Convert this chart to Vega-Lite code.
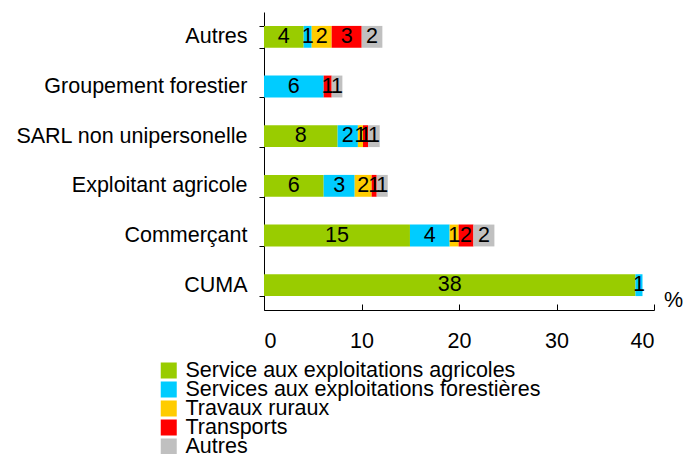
{
  "$schema": "https://vega.github.io/schema/vega-lite/v6.json",
  "autosize": {"type": "none"},
  "padding": {"left": 264, "top": 12, "right": 29, "bottom": 144},
  "width": 390,
  "height": 298,
  "config": {
    "font": "Liberation Sans",
    "view": {"stroke": null},
    "axis": {"grid": false, "domainColor": "#000000", "tickColor": "#000000", "labelColor": "#000000", "labelFontSize": 21.5, "labelFont": "Liberation Sans", "domainWidth": 1, "tickWidth": 1}
  },
  "data": {
    "values": [
      {"cat": "Autres", "type": "Service aux exploitations agricoles", "ord": 1, "v": 4.07},
      {"cat": "Autres", "type": "Services aux exploitations forestières", "ord": 2, "v": 0.82},
      {"cat": "Autres", "type": "Travaux ruraux", "ord": 3, "v": 2.05},
      {"cat": "Autres", "type": "Transports", "ord": 4, "v": 3.08},
      {"cat": "Autres", "type": "Autres", "ord": 5, "v": 2.12},
      {"cat": "Groupement forestier", "type": "Services aux exploitations forestières", "ord": 2, "v": 6.12},
      {"cat": "Groupement forestier", "type": "Transports", "ord": 4, "v": 0.82},
      {"cat": "Groupement forestier", "type": "Autres", "ord": 5, "v": 1.1},
      {"cat": "SARL non unipersonelle", "type": "Service aux exploitations agricoles", "ord": 1, "v": 7.55},
      {"cat": "SARL non unipersonelle", "type": "Services aux exploitations forestières", "ord": 2, "v": 2.08},
      {"cat": "SARL non unipersonelle", "type": "Travaux ruraux", "ord": 3, "v": 0.52},
      {"cat": "SARL non unipersonelle", "type": "Transports", "ord": 4, "v": 0.52},
      {"cat": "SARL non unipersonelle", "type": "Autres", "ord": 5, "v": 1.2},
      {"cat": "Exploitant agricole", "type": "Service aux exploitations agricoles", "ord": 1, "v": 6.12},
      {"cat": "Exploitant agricole", "type": "Services aux exploitations forestières", "ord": 2, "v": 3.18},
      {"cat": "Exploitant agricole", "type": "Travaux ruraux", "ord": 3, "v": 1.74},
      {"cat": "Exploitant agricole", "type": "Transports", "ord": 4, "v": 0.52},
      {"cat": "Exploitant agricole", "type": "Autres", "ord": 5, "v": 1.13},
      {"cat": "Commerçant", "type": "Service aux exploitations agricoles", "ord": 1, "v": 14.97},
      {"cat": "Commerçant", "type": "Services aux exploitations forestières", "ord": 2, "v": 4.07},
      {"cat": "Commerçant", "type": "Travaux ruraux", "ord": 3, "v": 0.92},
      {"cat": "Commerçant", "type": "Transports", "ord": 4, "v": 1.52},
      {"cat": "Commerçant", "type": "Autres", "ord": 5, "v": 2.15},
      {"cat": "CUMA", "type": "Service aux exploitations agricoles", "ord": 1, "v": 38.1},
      {"cat": "CUMA", "type": "Services aux exploitations forestières", "ord": 2, "v": 0.72}
    ]
  },
  "encoding": {
    "y": {
      "field": "cat", "type": "nominal",
      "sort": ["Autres", "Groupement forestier", "SARL non unipersonelle", "Exploitant agricole", "Commerçant", "CUMA"],
      "scale": {"paddingInner": 0.56, "paddingOuter": 0.28},
      "axis": {"title": null, "tickBand": "extent", "tickSize": 5, "labelPadding": 12, "labelLimit": 300}
    }
  },
  "layer": [
    {
      "mark": {"type": "bar"},
      "encoding": {
        "x": {
          "field": "v", "type": "quantitative", "stack": "zero",
          "scale": {"domain": [0, 40], "nice": false},
          "axis": {"values": [0, 10, 20, 30, 40], "tickSize": -6, "labelPadding": 26, "labelBaseline": "top", "title": "%", "titleX": 409, "titleY": -10, "titleAlign": "center", "titleBaseline": "middle", "titleFontSize": 21.5, "titleFontWeight": "normal", "titleColor": "#000000", "titleFont": "Liberation Sans"}
        },
        "order": {"field": "ord", "type": "quantitative"},
        "color": {
          "field": "type", "type": "nominal",
          "scale": {
            "domain": ["Service aux exploitations agricoles", "Services aux exploitations forestières", "Travaux ruraux", "Transports", "Autres"],
            "range": ["#99CC00", "#00CCFF", "#FFCC00", "#FF0000", "#C0C0C0"]
          },
          "legend": {"title": null, "orient": "none", "legendX": -106, "legendY": 350, "symbolType": "square", "symbolSize": 256, "symbolStrokeWidth": 0, "labelFontSize": 21.5, "labelFont": "Liberation Sans", "labelColor": "#000000", "rowPadding": -3, "labelOffset": 6, "labelLimit": 500, "clipHeight": 17}
        }
      }
    },
    {
      "transform": [
        {"stack": "v", "groupby": ["cat"], "sort": [{"field": "ord"}], "as": ["v0", "v1"]},
        {"fold": ["v0", "v1"], "as": ["k", "pos"]}
      ],
      "mark": {"type": "text", "fontSize": 21.5, "font": "Liberation Sans", "color": "#000000", "baseline": "middle", "align": "center"},
      "encoding": {
        "x": {"field": "pos", "type": "quantitative", "aggregate": "mean"},
        "detail": {"field": "type", "type": "nominal"},
        "text": {"field": "v", "type": "quantitative", "format": ".0f"}
      }
    }
  ]
}
